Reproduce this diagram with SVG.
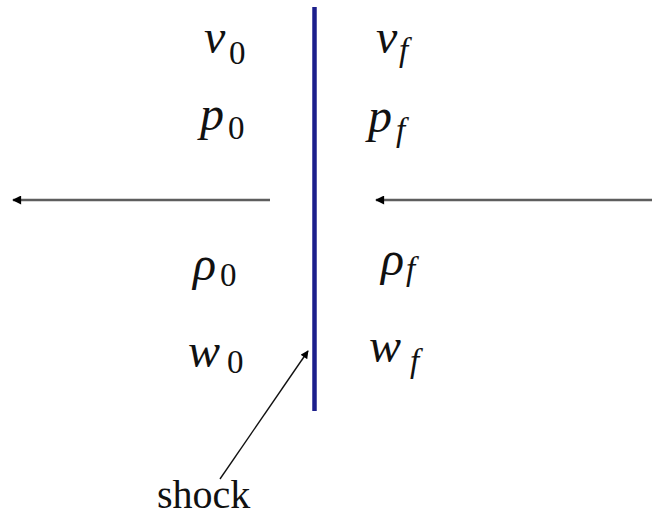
<svg xmlns="http://www.w3.org/2000/svg" width="652" height="516" viewBox="0 0 652 516">
<style>
text{font-family:'Liberation Serif','DejaVu Serif','Times New Roman',serif;fill:#111}
.m{font-style:italic;font-size:48px}
.s{font-size:33px}
.si{font-style:italic;font-size:33px}
.lbl{font-size:40px}
.flow{stroke:#5e5e5e;stroke-width:2.4;fill:none}
.ptr{stroke:#111;stroke-width:1.4;fill:none}
</style>
<defs>
<marker id="ah" viewBox="0 0 10 10" refX="9" refY="5" markerWidth="10" markerHeight="9" markerUnits="userSpaceOnUse" orient="auto">
<path d="M0,0 L10,5 L0,10 z" fill="#000"/>
</marker>
<marker id="ah2" viewBox="0 0 10 10" refX="9" refY="5" markerWidth="9" markerHeight="8" markerUnits="userSpaceOnUse" orient="auto">
<path d="M0,0 L10,5 L0,10 z" fill="#000"/>
</marker>
</defs>
<rect width="652" height="516" fill="#fff"/>
<g id="shock-line">
<line x1="314.5" y1="7" x2="314.5" y2="411" stroke="#1c1f8c" stroke-width="4.5"/>
</g>
<g id="connectors">
<line class="flow" x1="270" y1="200" x2="13" y2="200" marker-end="url(#ah)"/>
<line class="flow" x1="652" y1="200" x2="376" y2="200" marker-end="url(#ah)"/>
<line class="ptr" x1="220" y1="479" x2="308" y2="351" marker-end="url(#ah2)"/>
</g>
<g id="v0"><text class="m" x="204" y="53">v</text><text class="s" x="229" y="64">0</text></g>
<g id="p0"><text class="m" x="200" y="130">p</text><text class="s" x="228" y="139">0</text></g>
<g id="rho0"><text class="m" x="193" y="280">ρ</text><text class="s" x="220" y="286">0</text></g>
<g id="w0"><text class="m" x="188" y="367">w</text><text class="s" x="227" y="373">0</text></g>
<g id="vf"><text class="m" x="376" y="53">v</text><text class="si" x="399" y="61">f</text></g>
<g id="pf"><text class="m" x="368" y="132">p</text><text class="si" x="396" y="141">f</text></g>
<g id="rhof"><text class="m" x="381" y="275">ρ</text><text class="si" x="406" y="280">f</text></g>
<g id="wf"><text class="m" x="369" y="362">w</text><text class="si" x="410" y="372">f</text></g>
<g id="shock-label"><text class="lbl" x="157" y="508">shock</text></g>
</svg>
